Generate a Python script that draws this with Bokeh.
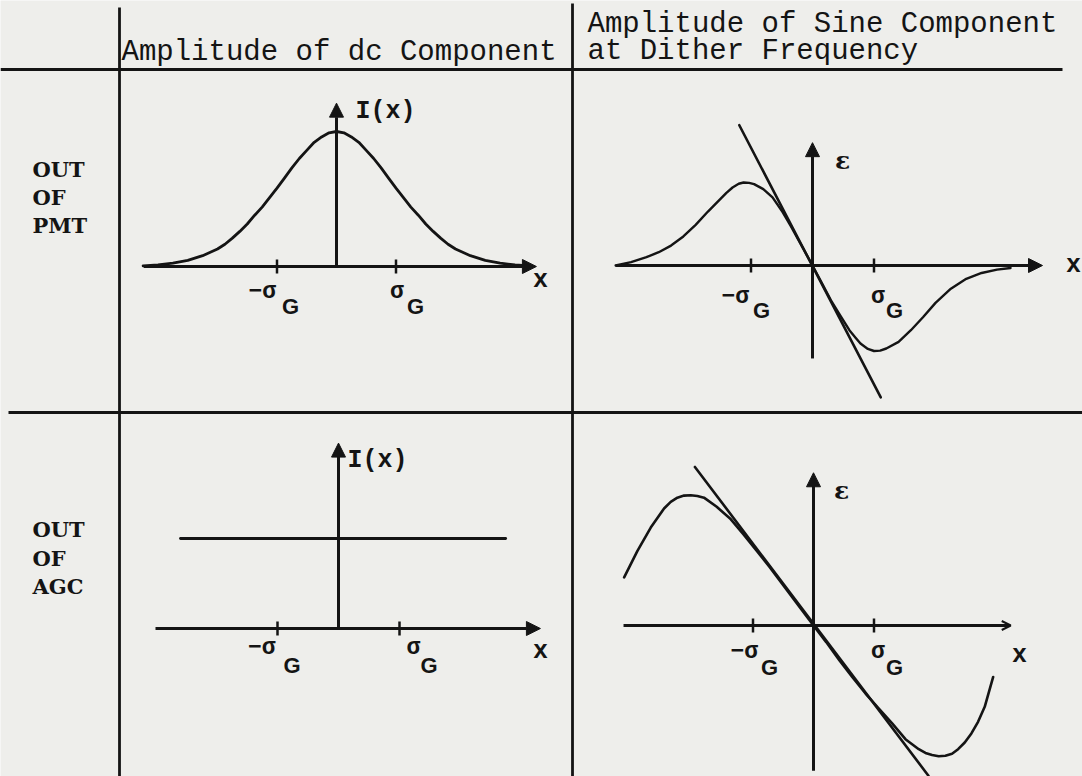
from bokeh.plotting import figure
from bokeh.models import Range1d, Arrow, NormalHead, OpenHead
from bokeh.core.properties import value
from bokeh.embed import file_html
from bokeh.resources import INLINE

# ---------------------------------------------------------------------------
# Curve samples, x in units of sigma_G, amplitudes normalised per panel
# ---------------------------------------------------------------------------
# dc component out of the PMT (gaussian spot profile)
pmt_dc_x = [-3.25, -3.0, -2.75, -2.5, -2.25, -2.0, -1.875, -1.75, -1.625, -1.5,
            -1.375, -1.25, -1.125, -1.0, -0.875, -0.75, -0.625, -0.5, -0.375,
            -0.25, -0.125, 0.0, 0.125, 0.25, 0.375, 0.5, 0.625, 0.75, 0.875,
            1.0, 1.125, 1.25, 1.375, 1.5, 1.625, 1.75, 1.875, 2.0, 2.25, 2.5,
            2.75, 3.0, 3.25]
pmt_dc_y = [0.005, 0.012, 0.025, 0.045, 0.08, 0.13, 0.165, 0.21, 0.26, 0.315,
            0.38, 0.44, 0.51, 0.58, 0.655, 0.73, 0.80, 0.86, 0.92,
            0.96, 0.99, 1.0, 0.99, 0.96, 0.92, 0.86, 0.80, 0.73, 0.655,
            0.58, 0.51, 0.44, 0.38, 0.315, 0.26, 0.21, 0.165, 0.13, 0.08, 0.045,
            0.025, 0.012, 0.005]

# sine component at the dither frequency out of the PMT
pmt_sine_x = [-3.2, -2.95, -2.7, -2.5, -2.3, -2.1, -1.9, -1.7, -1.5, -1.4, -1.3,
              -1.2, -1.12, -1.03, -0.95, -0.8, -0.65, -0.5, -0.35, -0.2, 0.0,
              0.15, 0.3, 0.45, 0.6, 0.7, 0.78, 0.9, 1.0, 1.1, 1.2, 1.4, 1.6,
              1.8, 2.0, 2.25, 2.5, 2.75, 3.0, 3.22]
pmt_sine_y = [0.0, 0.04, 0.10, 0.16, 0.24, 0.35, 0.49, 0.65, 0.80, 0.875, 0.94,
              0.985, 1.0, 0.995, 0.98, 0.92, 0.82, 0.66, 0.47, 0.27, 0.0,
              -0.21, -0.42, -0.60, -0.78, -0.87, -0.94, -1.005, -1.03, -1.025,
              -1.0, -0.92, -0.78, -0.62, -0.45, -0.28, -0.16, -0.09, -0.05,
              -0.03]
pmt_slope_x = [-1.19, 1.11]
pmt_slope_y = [1.69, -1.59]

# dc component out of the AGC (flat level)
agc_dc_x = [-2.59, 2.74]
agc_dc_y = [1.0, 1.0]

# sine component at the dither frequency out of the AGC
agc_sine_x = [-3.13, -2.91, -2.69, -2.47, -2.36, -2.25, -2.14, -2.03, -1.92,
              -1.81, -1.60, -1.38, -1.16, -0.94, -0.72, -0.50, -0.28, 0.0, 0.21,
              0.43, 0.64, 0.86, 1.08, 1.30, 1.52, 1.74, 1.85, 1.96, 2.07, 2.18,
              2.29, 2.39, 2.50, 2.61, 2.72, 2.83, 2.97]
agc_sine_y = [0.58, 0.90, 1.18, 1.41, 1.49, 1.54, 1.565, 1.57, 1.56,
              1.54, 1.43, 1.29, 1.10, 0.90, 0.70, 0.485, 0.27, 0.0, -0.20,
              -0.42, -0.62, -0.82, -1.00, -1.18, -1.37, -1.49, -1.535, -1.56,
              -1.575, -1.57, -1.545, -1.49, -1.41, -1.30, -1.16, -0.98, -0.62]
agc_slope_x = [-1.96, 1.90]
agc_slope_y = [1.91, -1.81]

sigma_ticks = [-1.0, 1.0]
row_labels = [["OUT", "OF", "PMT"], ["OUT", "OF", "AGC"]]
dc_header = "Amplitude of dc Component"
sine_header = ["Amplitude of Sine Component", "at Dither Frequency"]

# ---------------------------------------------------------------------------
# Page geometry and styling
# ---------------------------------------------------------------------------
W, H = 1082, 776
INK = "#141414"
PAPER = "#eeeeeb"
MONO = "Liberation Mono"

# panel frames: pixel origin of the axes and pixel size of one unit
panels = {
    "pmt_dc":   dict(ox=336, oy=266, sx=59.5, sy=135),
    "pmt_sine": dict(ox=812, oy=265, sx=61.5, sy=83),
    "agc_dc":   dict(ox=338, oy=628, sx=61.0, sy=90),
    "agc_sine": dict(ox=813, oy=625, sx=60.5, sy=83),
}

p = figure(width=W, height=H, x_range=Range1d(0, W), y_range=Range1d(H, 0),
           output_backend="svg", toolbar_location=None,
           x_axis_type=None, y_axis_type=None, min_border=0,
           background_fill_color=PAPER, border_fill_color=PAPER,
           outline_line_color=None)

p.extra_x_ranges = {k: Range1d((0 - v["ox"]) / v["sx"], (W - v["ox"]) / v["sx"])
                    for k, v in panels.items()}
p.extra_y_ranges = {k: Range1d((v["oy"] - H) / v["sy"], v["oy"] / v["sy"])
                    for k, v in panels.items()}

# ---- table rules -----------------------------------------------------------
p.segment(x0=[119, 572], y0=[7, 3], x1=[119, 572], y1=[H, H],
          line_color=INK, line_width=2.8)
p.segment(x0=[0, 8], y0=[69, 412], x1=[1062, W], y1=[69, 412],
          line_color=INK, line_width=3)


def txt(x, y, s, font, size, bold=False, align="left", dx=0, dy=0, rng="default"):
    p.text(x=[x], y=[y], text=[s], x_range_name=rng, y_range_name=rng,
           x_offset=dx, y_offset=dy, text_font=value(font),
           text_font_size=size, text_font_style="bold" if bold else "normal",
           text_align=align, text_baseline="alphabetic", text_color=INK)


# ---- headers and row titles ------------------------------------------------
txt(121, 52, dc_header, MONO, "29px")
txt(587, 24, sine_header[0], MONO, "29px")
txt(587, 51, sine_header[1], MONO, "29px")

for labels, baselines in zip(row_labels, [[169, 197, 225], [529, 558, 586]]):
    for s, b in zip(labels, baselines):
        txt(32, b, s, "DejaVu Serif", "21px", bold=True)


# ---- panel drawing helpers ---------------------------------------------------
def arrow(name, x0, y0, x1, y1, head=None):
    p.add_layout(Arrow(
        end=head if head is not None else NormalHead(size=14, fill_color=INK,
                                                     line_color=INK, line_width=1),
        x_start=x0, y_start=y0, x_end=x1, y_end=y1,
        line_color=INK, line_width=3,
        x_range_name=name, y_range_name=name))


def ticks(name):
    sy = panels[name]["sy"]
    p.segment(x0=sigma_ticks, x1=sigma_ticks, y0=[-7 / sy] * 2, y1=[7 / sy] * 2,
              line_color=INK, line_width=2.5,
              x_range_name=name, y_range_name=name)


def sigma_labels(name, left, right, base_s, base_g):
    # left:  (right edge of "−σ", left edge of "G") relative to the -σ tick
    # right: (left edge of "σ",  left edge of "G") relative to the +σ tick
    txt(-1, 0, "−σ", MONO, "23px", bold=True, align="right", dx=left[0], dy=base_s, rng=name)
    txt(-1, 0, "G", "Liberation Sans", "22px", bold=True, dx=left[1], dy=base_g, rng=name)
    txt(1, 0, "σ", MONO, "23px", bold=True, dx=right[0], dy=base_s, rng=name)
    txt(1, 0, "G", "Liberation Sans", "22px", bold=True, dx=right[1], dy=base_g, rng=name)


def curve(name, xs, ys, w=2.6):
    p.line(xs, ys, line_color=INK, line_width=w, line_join="round", line_cap="round",
           x_range_name=name, y_range_name=name)


# ---- top left: dc component out of PMT ----
n = "pmt_dc"
arrow(n, -3.24, 0, 3.36, 0)
arrow(n, 0, 0, 0, 1.21)
ticks(n)
curve(n, pmt_dc_x, pmt_dc_y, 2.8)
sigma_labels(n, (-1, 5), (-6, 11), 25, 40)
txt(0, 0, "x", MONO, "25px", bold=True, align="center", dx=204, dy=14, rng=n)
txt(0, 1.21, "I(x)", MONO, "25px", bold=True, dx=19, dy=8, rng=n)

# ---- top right: sine component out of PMT ----
n = "pmt_sine"
arrow(n, -3.2, 0, 3.74, 0)
arrow(n, 0, -1.12, 0, 1.48)
ticks(n)
curve(n, pmt_sine_x, pmt_sine_y, 2.4)
curve(n, pmt_slope_x, pmt_slope_y, 2.6)
sigma_labels(n, (-2, 2), (-3, 12), 31, 45)
txt(0, 0, "x", MONO, "25px", bold=True, align="center", dx=261, dy=0, rng=n)
txt(0, 1.48, "ε", "DejaVu Serif", "25px", bold=True, align="center", dx=30, dy=18, rng=n)

# ---- bottom left: dc component out of AGC ----
n = "agc_dc"
arrow(n, -3.0, 0, 3.31, 0)
arrow(n, 0, 0, 0, 2.06)
ticks(n)
curve(n, agc_dc_x, agc_dc_y, 2.8)
sigma_labels(n, (-2, 6), (7, 21), 19, 37)
txt(0, 0, "x", MONO, "25px", bold=True, align="center", dx=202, dy=23, rng=n)
txt(0, 2.06, "I(x)", MONO, "25px", bold=True, dx=9, dy=17, rng=n)

# ---- bottom right: sine component out of AGC ----
n = "agc_sine"
arrow(n, -3.14, 0, 3.26, 0, head=OpenHead(size=9, line_color=INK, line_width=2))
p.segment(x0=[0], y0=[-1.75], x1=[0], y1=[1.7], line_color=INK, line_width=3,
          x_range_name=n, y_range_name=n)
arrow(n, 0, 1.5, 0, 1.84)
ticks(n)
curve(n, agc_sine_x, agc_sine_y, 2.6)
curve(n, agc_slope_x, agc_slope_y, 2.6)
sigma_labels(n, (5, 8), (-3, 12), 26, 42)
txt(0, 0, "x", MONO, "25px", bold=True, align="center", dx=206, dy=30, rng=n)
txt(0, 1.84, "ε", "DejaVu Serif", "25px", bold=True, align="center", dx=28, dy=18, rng=n)

open("out.html", "w").write(file_html(p, INLINE))
